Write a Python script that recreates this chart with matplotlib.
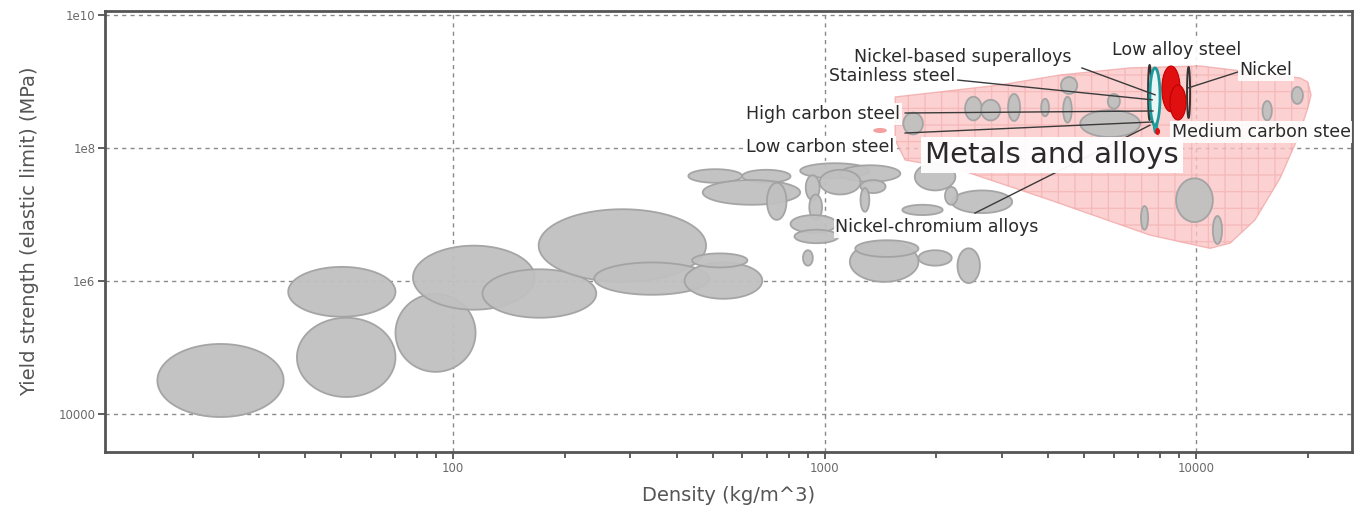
import numpy as np
import matplotlib.pyplot as plt
from matplotlib.ticker import FixedLocator, NullFormatter

# ---- data: material families as (density lo/hi, strength lo/hi) ----
gray_rho_lo = [16, 36, 38, 70, 78, 120, 170, 240, 420, 440,
               430, 600, 470, 700, 860, 1100, 970, 890, 1250, 910, 1250,
               810, 830, 875, 1170, 1210, 1790, 2280, 1620, 2200, 2110, 1750, 1630,
               4330, 3120, 3830, 4390, 2390, 2640, 18100, 15100, 5790, 4880,
               8840, 7110, 11100]
gray_rho_hi = [35, 70, 70, 115, 166, 243, 480, 490, 680, 620,
               600, 810, 860, 790, 1320, 1600, 1250, 970, 1460, 985, 1320,
               1080, 1090, 930, 1790, 1790, 2200, 2620, 2080, 3200, 2280, 2250, 1840,
               4790, 3360, 4020, 4630, 2650, 2970, 19400, 16000, 6240, 7070,
               11100, 7430, 11750]
gray_sig_lo = [9.0e3, 2.9e5, 1.8e4, 4.3e4, 3.7e5, 2.8e5, 9.7e5, 6.2e5, 5.4e5, 1.6e6,
               3.0e7, 3.0e7, 1.4e7, 8.3e6, 3.5e7, 3.1e7, 2.0e7, 1.65e7, 2.1e7, 8.3e6, 1.1e7,
               5.3e6, 3.7e6, 1.7e6, 9.7e5, 2.3e6, 1.7e6, 9.3e5, 9.8e6, 1.05e7, 1.4e7, 2.3e7, 1.6e8,
               6.5e8, 2.55e8, 3.0e8, 2.4e8, 2.6e8, 2.6e8, 4.6e8, 2.6e8, 3.9e8, 1.46e8,
               7.7e6, 5.9e6, 3.6e6]
gray_sig_hi = [1.13e5, 1.63e6, 2.8e5, 6.4e5, 3.4e6, 1.5e6, 1.2e7, 1.9e6, 1.9e6, 2.6e6,
               4.8e7, 4.7e7, 3.3e7, 3.0e7, 5.9e7, 5.5e7, 4.7e7, 3.9e7, 3.3e7, 2.0e7, 2.5e7,
               9.8e6, 5.9e6, 2.9e6, 3.9e6, 4.1e6, 2.9e6, 3.1e6, 1.4e7, 2.3e7, 2.6e7, 5.9e7, 3.4e8,
               1.17e9, 6.5e8, 5.5e8, 5.9e8, 5.9e8, 5.3e8, 8.3e8, 5.1e8, 6.5e8, 3.7e8,
               3.5e7, 1.34e7, 9.5e6]

# metals and alloys envelope
env_rho = [1550, 2965, 4300, 6640, 10260, 19060, 20000, 20400, 20000, 18840,
           16830, 14420, 12350, 10910, 7516, 4047, 2317, 1648, 1549]
env_sig = [5.85e8, 8.85e8, 1.25e9, 1.6e9, 1.71e9, 1.13e9, 9.8e8, 6.27e8, 4.0e8, 1.46e8,
           3.5e7, 8.3e6, 3.7e6, 3.1e6, 4.9e6, 1.65e7, 4.7e7, 6.6e7, 1.32e8]

# highlighted metals: (rho lo, rho hi, sig lo, sig hi)
teal_box = [7516, 8000, 2.2e8, 1.6e9]
teal_tail = [7650, 7900, 1.68e8, 7.4e8]
red_boxes = [[8093, 9060, 3.5e8, 1.71e9], [8511, 9397, 2.64e8, 8.85e8]]
red_dot = [7762, 8000, 1.57e8, 2.0e8]
pink_dot = [1352, 1472, 1.68e8, 2.0e8]
dark_boxes = [[7430, 7570, 2.64e8, 1.77e9], [9460, 9640, 2.83e8, 1.65e9]]

# labels: text, x, y, ha
labels = ["Nickel-based superalloys", "Low alloy steel", "Nickel", "Stainless steel",
          "High carbon steel", "Low carbon steel", "Medium carbon steel",
          "Nickel-chromium alloys"]
label_x = [2361, 8890, 15420, 1521, 991, 973, 8610, 2009]
label_y = [2.33e9, 2.98e9, 1.49e9, 1.21e9, 3.24e8, 1.04e8, 1.74e8, 6.5e6]
label_ha = ["center", "center", "center", "center", "center", "center", "left", "center"]

# leader lines: start (x, y) -> end (x, y)
lead_x0 = [4930, 2285, 1648, 1648, 12970, 2540]
lead_y0 = [1.6e9, 1.05e9, 3.36e8, 1.68e8, 1.39e9, 1.05e7]
lead_x1 = [7760, 7620, 7660, 7620, 9510, 7516]
lead_y1 = [6.3e8, 5.3e8, 3.6e8, 2.46e8, 7.98e8, 2.2e8]


def ellipse_xy(rlo, rhi, slo, shi, n=120):
    t = np.linspace(0, 2 * np.pi, n)
    cx = (np.log10(rlo) + np.log10(rhi)) / 2
    cy = (np.log10(slo) + np.log10(shi)) / 2
    rx = (np.log10(rhi) - np.log10(rlo)) / 2
    ry = (np.log10(shi) - np.log10(slo)) / 2
    return 10 ** (cx + rx * np.cos(t)), 10 ** (cy + ry * np.sin(t))


fig = plt.figure(figsize=(13.61, 5.11), dpi=100)
ax = fig.add_axes([0.0772, 0.1155, 0.9162, 0.863])
ax.set_xscale("log")
ax.set_yscale("log")
ax.set_xlim(11.57, 26300)
ax.set_ylim(2683, 1.149e10)

# grid
ax.set_axisbelow(True)
ax.grid(True, which="major", color="#8a8a8a", linestyle=(0, (3, 3)), linewidth=1)

# envelope
ax.fill(env_rho, env_sig, facecolor="#fcc4c4", edgecolor="#f2a8a8", alpha=0.78, linewidth=1, zorder=1)
ax.fill(env_rho, env_sig, facecolor="none", edgecolor="#f0a0a0", hatch="+", linewidth=0,
        alpha=0.45, zorder=1.1)
x, y = ellipse_xy(*pink_dot)
ax.fill(x, y, facecolor="#f4a0a0", edgecolor="none", zorder=1.2)

# gray families
for rlo, rhi, slo, shi in zip(gray_rho_lo, gray_rho_hi, gray_sig_lo, gray_sig_hi):
    x, y = ellipse_xy(rlo, rhi, slo, shi)
    ax.fill(x, y, facecolor="#c0c0c0", edgecolor="#a2a2a2", linewidth=1.3, alpha=0.95, zorder=2)

# highlighted metals
for b in dark_boxes:
    x, y = ellipse_xy(*b)
    ax.fill(x, y, facecolor="none", edgecolor="#333333", linewidth=1.4, zorder=3)
for b in red_boxes:
    x, y = ellipse_xy(*b)
    ax.fill(x, y, facecolor="#e01010", edgecolor="#c00000", linewidth=0.8, zorder=3)
x, y = ellipse_xy(*teal_box)
ax.fill(x, y, facecolor="#e8f6f6", edgecolor="#1e9a9a", linewidth=2, zorder=3.2)
x, y = ellipse_xy(*teal_tail)
ax.fill(x, y, facecolor="#2aa8a8", edgecolor="#1e9a9a", linewidth=1, zorder=3.1)
x, y = ellipse_xy(*red_dot)
ax.fill(x, y, facecolor="#e01010", edgecolor="none", zorder=3.3)

# leader lines
for xa, ya, xb, yb in zip(lead_x0, lead_y0, lead_x1, lead_y1):
    ax.plot([xa, xb], [ya, yb], color="#3a3a3a", linewidth=1, zorder=4)

# labels
for t, lx, ly, ha in zip(labels, label_x, label_y, label_ha):
    ax.text(lx, ly, t, ha=ha, va="center", fontsize=12.5, color="#2a2a2a", zorder=5,
            clip_on=True,
            bbox=dict(facecolor="white", edgecolor="none", alpha=0.9, pad=1.2))
ax.text(4093, 7.85e7, "Metals and alloys", ha="center", va="center", fontsize=21,
        color="#2a2a2a", zorder=6,
        bbox=dict(facecolor="white", edgecolor="none", alpha=0.95, pad=3))

# ticks
ax.xaxis.set_major_locator(FixedLocator([100, 1000, 10000]))
ax.set_xticklabels(["100", "1000", "10000"])
ax.xaxis.set_minor_locator(FixedLocator([20, 30, 40, 50, 60, 70, 80, 90,
                                         200, 300, 400, 500, 600, 700, 800, 900,
                                         2000, 3000, 4000, 5000, 6000, 7000, 8000, 9000, 20000]))
ax.xaxis.set_minor_formatter(NullFormatter())
ax.yaxis.set_major_locator(FixedLocator([1e4, 1e6, 1e8, 1e10]))
ax.set_yticklabels(["10000", "1e6", "1e8", "1e10"])
ax.yaxis.set_minor_locator(FixedLocator([]))
ax.tick_params(axis="both", which="major", labelsize=8.5, labelcolor="#6a6a6a",
               color="#444444", length=5, width=1.2, pad=2)
ax.tick_params(axis="x", which="minor", color="#444444", length=4, width=1.2)

for s in ax.spines.values():
    s.set_color("#555555")
    s.set_linewidth(2)

ax.set_xlabel("Density (kg/m^3)", fontsize=14, color="#555555", labelpad=8)
ax.set_ylabel("Yield strength (elastic limit) (MPa)", fontsize=14, color="#555555", labelpad=14)

fig.savefig("out.png", dpi=100)
